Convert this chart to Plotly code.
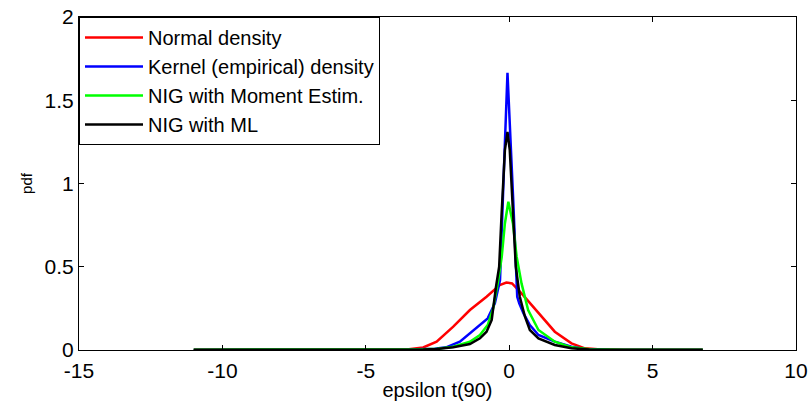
import plotly.graph_objects as go

# ---- data ----
names = ["Normal density", "Kernel (empirical) density", "NIG with Moment Estim.", "NIG with ML"]
colors = ["#ff0000", "#0000ff", "#00ff00", "#000000"]

normal_x = [-11, -5, -4, -3.5, -3, -2.53, -1.95, -1.37, -0.79, -0.33, -0.1, 0.1, 0.43, 1.02, 1.59, 2.17, 2.64, 3.2, 4, 6.75]
normal_y = [0, 0, 0.001, 0.004, 0.015, 0.05, 0.14, 0.24, 0.32, 0.39, 0.405, 0.40, 0.34, 0.22, 0.11, 0.04, 0.01, 0.003, 0.0005, 0]

kernel_x = [-11, -7, -5, -3.5, -2.6, -2.2, -1.72, -1.37, -1.02, -0.75, -0.5, -0.32, -0.21, -0.06, 0.14, 0.2, 0.28, 0.35, 0.5, 0.72, 1.02, 1.59, 2.17, 2.64, 3.5, 5, 6.75]
kernel_y = [0, 0, 0.001, 0.003, 0.008, 0.016, 0.05, 0.10, 0.15, 0.19, 0.28, 0.42, 0.96, 1.665, 0.90, 0.60, 0.32, 0.28, 0.22, 0.15, 0.09, 0.05, 0.02, 0.006, 0.001, 0, 0]

nig_mom_x = [-11, -6, -4, -3, -2.5, -1.95, -1.37, -1.02, -0.75, -0.56, -0.38, -0.26, -0.15, -0.03, 0.13, 0.26, 0.43, 0.49, 0.66, 0.84, 1.02, 1.59, 2.17, 2.8, 4, 6.75]
nig_mom_y = [0.002, 0.002, 0.002, 0.004, 0.008, 0.02, 0.05, 0.09, 0.15, 0.25, 0.42, 0.56, 0.76, 0.89, 0.76, 0.56, 0.40, 0.36, 0.24, 0.18, 0.12, 0.05, 0.016, 0.005, 0.002, 0.002]

nig_ml_x = [-11, -6, -4, -3, -2.53, -1.95, -1.37, -1.02, -0.79, -0.61, -0.46, -0.35, -0.27, -0.15, -0.06, 0.02, 0.14, 0.23, 0.37, 0.55, 0.72, 1.02, 1.59, 2.17, 2.8, 4, 6.75]
nig_ml_y = [0.001, 0.001, 0.001, 0.003, 0.006, 0.016, 0.036, 0.07, 0.11, 0.18, 0.38, 0.50, 0.80, 1.20, 1.31, 1.20, 0.80, 0.50, 0.32, 0.20, 0.12, 0.07, 0.03, 0.01, 0.003, 0.001, 0.001]

series_x = [normal_x, kernel_x, nig_mom_x, nig_ml_x]
series_y = [normal_y, kernel_y, nig_mom_y, nig_ml_y]

x_ticks = [-15, -10, -5, 0, 5, 10]
y_ticks = [0, 0.5, 1, 1.5, 2]

FONT = "Liberation Sans, Arial, Helvetica, sans-serif"

fig = go.Figure()
for nm, c, xs, ys in zip(names, colors, series_x, series_y):
    fig.add_trace(go.Scatter(x=xs, y=ys, mode="lines", name=nm,
                             line=dict(color=c, width=2.5)))

axis_common = dict(showline=True, linecolor="black", linewidth=1, mirror="ticks",
                   ticks="inside", ticklen=5, tickcolor="black", tickwidth=1,
                   showgrid=False, zeroline=False, automargin=False,
                   tickfont=dict(family=FONT, size=21, color="black"))

fig.update_layout(
    width=809, height=405,
    margin=dict(l=79, r=13, t=17, b=55),
    plot_bgcolor="white", paper_bgcolor="white",
    xaxis=dict(range=[-15, 10], tickvals=x_ticks, ticktext=[str(v) for v in x_ticks],
               ticklabelstandoff=2,
               title=dict(text="epsilon t(90)", font=dict(family=FONT, size=20, color="black"), standoff=1),
               **axis_common),
    yaxis=dict(range=[0, 2], tickvals=y_ticks, ticktext=["0", "0.5", "1", "1.5", "2"],
               title=dict(text="pdf", font=dict(family=FONT, size=15, color="black"), standoff=8),
               **axis_common),
    legend=dict(x=0, y=1, xanchor="left", yanchor="top",
                bordercolor="black", borderwidth=1, bgcolor="white",
                font=dict(family=FONT, size=20, color="black"),
                itemwidth=58),
    showlegend=True,
)

fig.write_html("out.html", config={"displayModeBar": False},
               post_script="document.body.style.margin='0px';")
